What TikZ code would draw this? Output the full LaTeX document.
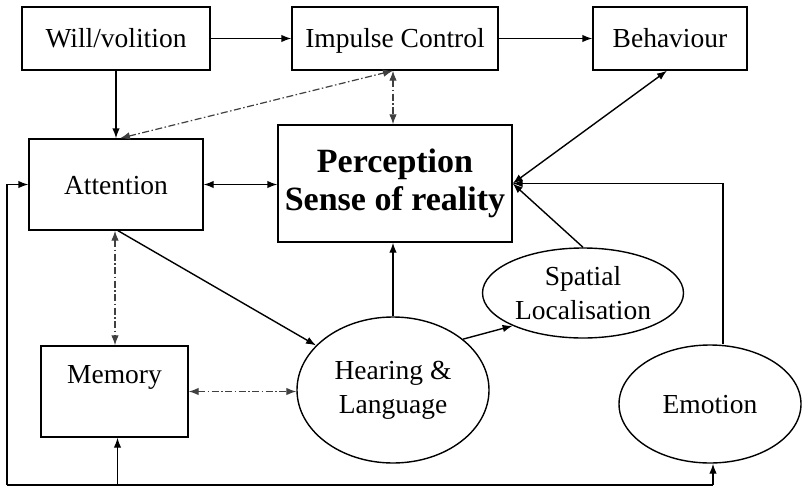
\documentclass[tikz,border=0pt]{standalone}
\usepackage{fontspec}
\setmainfont{Liberation Serif}
\usetikzlibrary{arrows.meta,shapes.geometric}
\begin{document}
\begin{tikzpicture}[x=1pt,y=-1pt,
  every node/.style={font=\fontsize{27.5}{34}\selectfont, inner sep=0pt},
  one/.style={text height=19pt, text depth=0pt},
  two/.style={align=center},
  box/.style={draw, line width=1.4pt, rectangle},
  oval/.style={draw, line width=1.4pt, ellipse},
  conn/.style={line width=1.4pt},
  tip/.style={-{Latex[length=10pt,width=7.5pt]}},
  tips/.style={{Latex[length=10pt,width=7.5pt]}-{Latex[length=10pt,width=7.5pt]}},
  dd/.style={line width=1.2pt, black!75, dash pattern=on 7pt off 2.5pt on 1.5pt off 2.5pt}]
\useasboundingbox (0,0) rectangle (802,487);

% boxes
\node[box, one, minimum width=188pt, minimum height=63pt] (will) at (116,38.5) {Will/volition};
\node[box, one, minimum width=206pt, minimum height=63pt] (imp) at (395,38.5) {Impulse Control};
\node[box, one, minimum width=154pt, minimum height=63pt] (beh) at (670,38.5) {Behaviour};
\node[box, one, minimum width=174pt, minimum height=91pt] (att) at (116,184.5) {Attention};
\node[box, two, minimum width=234pt, minimum height=117pt,
      font=\fontsize{34}{38}\selectfont\bfseries] (per) at (395,183.5) {Perception\\Sense of reality};
\node[box, two, minimum width=147pt, minimum height=91pt] (mem) at (114.5,391.5) {Memory\\\mbox{}};

% ellipses
\node[oval, two, minimum width=192pt, minimum height=146pt] (hear) at (393,390) {\raisebox{-4pt}{Hearing \&}\\\raisebox{-4pt}{Language}};
\node[oval, two, minimum width=201pt, minimum height=90pt] (spa) at (583,293) {Spatial\\Localisation};
\node[oval, one, minimum width=182pt, minimum height=118pt] (emo) at (710,404) {Emotion};

% feedback loop along the bottom
\coordinate (bl) at (7,485);
\coordinate (br) at (713,485);

% solid connectors
\draw[conn,tip] (will.east) -- (imp.west);
\draw[conn,tip] (imp.east) -- (beh.west);
\draw[conn,tip] (will.south) -- (att.north);
\draw[conn,tips] (att.east) -- (att.east -| per.west);
\draw[conn,tips] (per.east) -- ([xshift=-3pt]beh.south);
\draw[conn,tip] ([xshift=13pt]emo.north) |- (per.east);
\draw[conn,tip] (spa.north) -- (per.east);
\draw[conn,tip] ([xshift=2pt]att.south) -- (hear);
\draw[conn,tip] (hear.north) -- (hear.north |- per.south);
\draw[conn,tip] (hear.36) -- (spa.205);
\draw[conn] (bl) -- (br);
\draw[conn,tip] (bl) |- (att.west);
\draw[conn,tip] ([xshift=3pt]mem.south |- bl) -- ([xshift=3pt]mem.south);
\draw[conn,tip] (br) -- (br |- emo.south);

% dash-dot connectors
\draw[dd,tips] ([xshift=4pt]att.north) -- ([xshift=-2pt]imp.south);
\draw[dd,tips] ([xshift=-2pt]imp.south) -- ([xshift=-2pt]per.north);
\draw[dd,tips] ([xshift=-1pt]att.south) -- ([xshift=-1pt]att.south |- mem.north);
\draw[dd,tips] (mem.east) -- (mem.east -| hear.west);
\end{tikzpicture}
\end{document}
